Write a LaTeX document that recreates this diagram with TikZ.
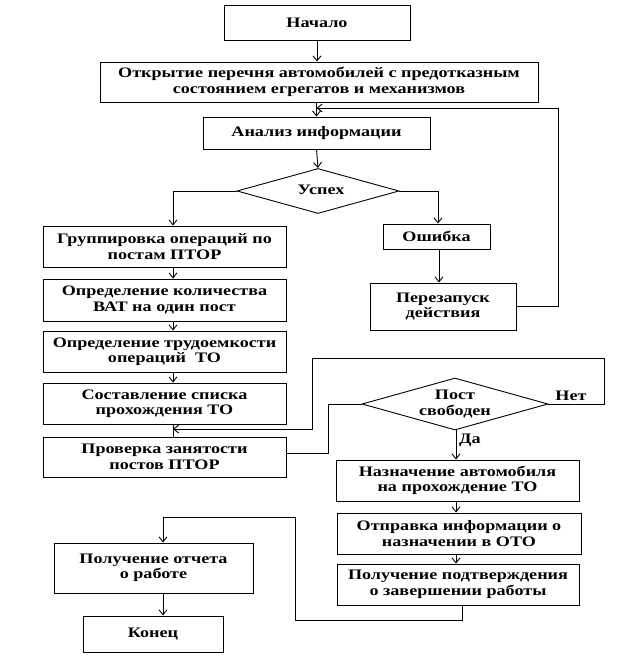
\documentclass[tikz,border=0pt]{standalone}
\usepackage{fontspec}
\setmainfont{Liberation Serif}[FakeStretch=1.25]
\usetikzlibrary{arrows.meta,shapes.geometric}
\newcommand\diagfont{\bfseries\fontsize{14.5pt}{15.5pt}\selectfont}
\begin{document}
\begin{tikzpicture}[x=1pt,y=-1pt,
  box/.style={draw, line width=0.9pt, rectangle, inner sep=0pt, align=center, font=\diagfont},
  dec/.style={draw, line width=0.9pt, diamond, inner sep=0pt},
  lbl/.style={font=\diagfont, align=center, inner sep=0pt},
  conn/.style={line width=0.9pt},
  arr/.style={conn, -{Straight Barb[length=5pt,width=8pt]}}
]
\useasboundingbox (0,0) rectangle (618,669);
\fill[white] (0,0) rectangle (618,669);

% nodes
\node[box, minimum width=186pt, minimum height=35pt] (start) at (317,22.5) {Начало};
\node[box, minimum width=438pt, minimum height=40pt] (open) at (319,82) {Открытие перечня автомобилей с предотказным\\состоянием егрегатов и механизмов};
\node[box, minimum width=227pt, minimum height=32pt] (anal) at (316.5,133) {Анализ информации};
\node[dec, minimum width=162pt, minimum height=45pt] (d1) at (318,191) {};
\node[lbl] (d1t) at (321,190) {Успех};
\node[box, minimum width=243pt, minimum height=41pt] (group) at (164.5,246.5) {Группировка операций по\\постам ПТОР};
\node[box, minimum width=107pt, minimum height=25pt] (err) at (436.5,236.5) {Ошибка};
\node[box, minimum width=146pt, minimum height=47pt] (restart) at (443,306.5) {Перезапуск\\действия};
\node[box, minimum width=243pt, minimum height=42pt] (qty) at (164.5,300) {Определение количества\\ВАТ на один пост};
\node[box, minimum width=243pt, minimum height=41pt] (labor) at (164.5,351.5) {Определение трудоемкости\\операций\ \ ТО};
\node[box, minimum width=243pt, minimum height=41pt] (list) at (164.5,403.5) {Составление списка\\прохождения ТО};
\node[box, minimum width=243pt, minimum height=40pt] (check) at (164.5,457) {Проверка занятости\\постов ПТОР};
\node[dec, minimum width=186pt, minimum height=52pt] (d2) at (455,404) {};
\node[lbl] (d2t) at (455,404) {Пост\\свободен};
\node[lbl, anchor=west] (yes) at (459,440) {Да};
\node[lbl] (no) at (571,396) {Нет};
\node[box, minimum width=243pt, minimum height=41pt] (assign) at (457.5,480.5) {Назначение автомобиля\\на прохождение ТО};
\node[box, minimum width=244pt, minimum height=41pt] (send) at (459,533.5) {Отправка информации о\\назначении в ОТО};
\node[box, minimum width=242pt, minimum height=41pt] (confirm) at (458,584.5) {Получение подтверждения\\о завершении работы};
\node[box, minimum width=199pt, minimum height=50pt] (report) at (153.5,568) {Получение отчета\\о работе};
\node[box, minimum width=140pt, minimum height=36pt] (end) at (153,634) {Конец};

% helper coordinates
\coordinate (fb) at (anal.north |- 0,108);
\coordinate (fbr) at (558,108);
\coordinate (g1) at ([xshift=8.5pt]group.north);
\coordinate (g2) at ([xshift=8.5pt]group.south);
\coordinate (q1) at ([xshift=8.5pt]qty.north);
\coordinate (q2) at ([xshift=8.5pt]qty.south);
\coordinate (l1) at ([xshift=8.5pt]labor.north);
\coordinate (l2) at ([xshift=8.5pt]labor.south);
\coordinate (s1) at ([xshift=8.5pt]list.north);
\coordinate (s2) at ([xshift=8.5pt]list.south);
\coordinate (c1) at ([xshift=8.5pt]check.north);
\coordinate (lc) at (s2 |- 0,429);
\coordinate (nr) at (604,358);
\coordinate (nl) at (312,429);
\coordinate (ce) at ([yshift=4pt]check.east);
\coordinate (cm) at (328,404);
\coordinate (e1) at ([xshift=1.5pt]err.north);
\coordinate (e2) at ([xshift=2.5pt]err.south);
\coordinate (cf) at ([xshift=4pt]confirm.south);
\coordinate (bl) at (295,620);
\coordinate (r1) at ([xshift=9.5pt]report.north);
\coordinate (r2) at ([xshift=9.5pt]report.south);
\coordinate (rt) at (r1 |- 0,517);
\coordinate (ax) at ([xshift=1pt]d2.south);

% connectors
\draw[arr] (start.south) -- (start.south |- open.north);
\draw[arr] (anal.north |- open.south) -- (anal.north);
\draw[arr] (restart.east) -| (fbr) -- (fb);
\draw[arr] (anal.south) -- (d1.north);
\draw[arr] (d1.west) -| (g1);
\draw[arr] (d1.east) -| (e1);
\draw[arr] (e2) -- (e2 |- restart.north);
\draw[arr] (g2) -- (q1);
\draw[arr] (q2) -- (l1);
\draw[arr] (l2) -- (s1);
\draw[conn] (s2) -- (c1);
\draw[arr] (d2.east) -| (nr) -| (nl) -- (lc);
\draw[conn] (ce) -| (cm) -- (d2.west);
\draw[arr] (ax) -- (ax |- assign.north);
\draw[arr] (ax |- assign.south) -- (ax |- send.north);
\draw[arr] (ax |- send.south) -- (ax |- confirm.north);
\draw[arr] (cf) |- (bl) |- (rt) -- (r1);
\draw[arr] (r2) -- (r2 |- end.north);
\end{tikzpicture}
\end{document}
